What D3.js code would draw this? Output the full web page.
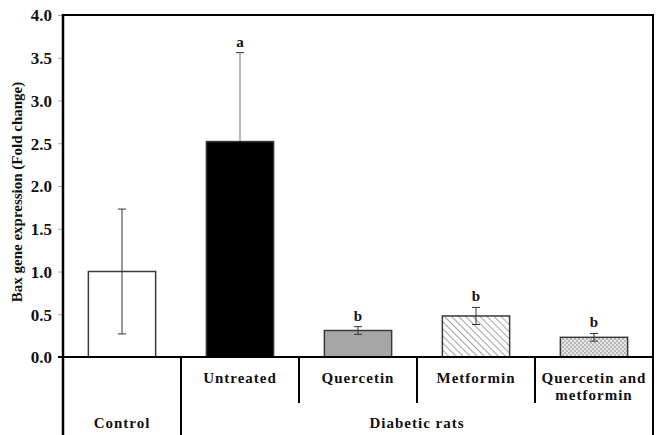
<!DOCTYPE html>
<html>
<head>
<meta charset="utf-8">
<script src="https://cdnjs.cloudflare.com/ajax/libs/d3/7.8.5/d3.min.js"></script>
<style>
  body { margin: 0; background: #fff; }
  svg text { font-family: "Liberation Serif", "DejaVu Serif", serif !important; font-weight: bold; fill: #111; }
</style>
</head>
<body>
<script>
// data
const groups = ["Control", "Untreated", "Quercetin", "Metformin", "Quercetin and metformin"];
const labelLines = [["Control"], ["Untreated"], ["Quercetin"], ["Metformin"], ["Quercetin and", "metformin"]];
const means = [1.0, 2.52, 0.31, 0.48, 0.23];
const errors = [0.73, 1.04, 0.045, 0.10, 0.045];
const letters = ["", "a", "b", "b", "b"];
const yTicks = [0, 0.5, 1.0, 1.5, 2.0, 2.5, 3.0, 3.5, 4.0];
const outerGroup = "Diabetic rats";

const W = 657, H = 435;
const m = { left: 63, right: 653, top: 15, bottom: 357 };

const svg = d3.select("body").append("svg").attr("width", W).attr("height", H);
const defs = svg.append("defs");

// hatched fill for metformin
const hatch = defs.append("pattern").attr("id", "hatch").attr("patternUnits", "userSpaceOnUse")
  .attr("width", 5).attr("height", 5).attr("patternTransform", "rotate(-45)");
hatch.append("rect").attr("width", 5).attr("height", 5).attr("fill", "#fff");
hatch.append("line").attr("x1", 0).attr("y1", 0).attr("x2", 0).attr("y2", 5)
  .attr("stroke", "#a8a8a8").attr("stroke-width", 2.2);

// checker fill for the combination
const check = defs.append("pattern").attr("id", "check").attr("patternUnits", "userSpaceOnUse")
  .attr("width", 4).attr("height", 4);
check.append("rect").attr("width", 4).attr("height", 4).attr("fill", "#e6e6e6");
check.append("rect").attr("width", 2).attr("height", 2).attr("fill", "#b8b8b8");
check.append("rect").attr("x", 2).attr("y", 2).attr("width", 2).attr("height", 2).attr("fill", "#b8b8b8");

const fills = ["#fff", "#000", "#a6a6a6", "url(#hatch)", "url(#check)"];

const x = d3.scaleBand().domain(groups).range([m.left, m.right]).paddingInner(0).paddingOuter(0);
const y = d3.scaleLinear().domain([0, 4]).range([m.bottom, m.top]);
const barW = x.bandwidth() * 0.57;
const cx = d => x(d) + x.bandwidth() / 2;

// y axis
const yAxis = svg.append("g").attr("transform", `translate(${m.left},0)`)
  .call(d3.axisLeft(y).tickValues(yTicks).tickFormat(d3.format(".1f")).tickSize(5).tickPadding(6));
yAxis.select(".domain").remove();
yAxis.selectAll(".tick line").attr("stroke", "#aaa");
yAxis.selectAll(".tick text").attr("font-size", 17).attr("dy", "0.34em");

// bars
const g = svg.append("g");
g.selectAll("rect.bar").data(groups).join("rect").attr("class", "bar")
  .attr("x", d => x(d) + (x.bandwidth() - barW) / 2)
  .attr("y", (d, i) => y(means[i]))
  .attr("width", barW)
  .attr("height", (d, i) => y(0) - y(means[i]))
  .attr("fill", (d, i) => fills[i])
  .attr("stroke", "#3a3a3a").attr("stroke-width", 1.5);

// error bars
const eb = g.selectAll("g.err").data(groups).join("g").attr("class", "err")
  .attr("stroke", "#333").attr("stroke-width", 1);
eb.append("line")
  .attr("x1", cx).attr("x2", cx)
  .attr("y1", (d, i) => y(means[i])).attr("y2", (d, i) => y(means[i] + errors[i]))
  .attr("stroke", (d, i) => i === 1 ? "#777" : "#333");
eb.append("line")
  .attr("x1", cx).attr("x2", cx)
  .attr("y1", (d, i) => y(means[i])).attr("y2", (d, i) => y(means[i] - errors[i]))
  .attr("stroke", (d, i) => i === 1 ? "#000" : "#333");
eb.append("line")
  .attr("x1", d => cx(d) - 4).attr("x2", d => cx(d) + 4)
  .attr("y1", (d, i) => y(means[i] + errors[i])).attr("y2", (d, i) => y(means[i] + errors[i]));
eb.append("line")
  .attr("x1", d => cx(d) - 4).attr("x2", d => cx(d) + 4)
  .attr("y1", (d, i) => y(means[i] - errors[i])).attr("y2", (d, i) => y(means[i] - errors[i]))
  .attr("stroke", (d, i) => i === 1 ? "#000" : "#333");

// significance letters
g.selectAll("text.sig").data(groups).join("text").attr("class", "sig")
  .attr("x", cx)
  .attr("y", (d, i) => y(means[i] + errors[i]) - 6)
  .attr("text-anchor", "middle").attr("font-size", 15)
  .text((d, i) => letters[i]);

// frame
const frame = svg.append("g").attr("stroke", "#000").attr("fill", "none");
frame.append("line").attr("x1", m.left).attr("x2", m.right).attr("y1", m.top).attr("y2", m.top).attr("stroke-width", 2);
frame.append("line").attr("x1", m.left).attr("x2", m.left).attr("y1", m.top - 1).attr("y2", H).attr("stroke-width", 2.5);
frame.append("line").attr("x1", m.right).attr("x2", m.right).attr("y1", m.top - 1).attr("y2", H).attr("stroke-width", 2);
frame.append("line").attr("x1", m.left - 5).attr("x2", m.right).attr("y1", m.bottom).attr("y2", m.bottom).attr("stroke-width", 2);

// category table separators
frame.append("line").attr("x1", x(groups[1])).attr("x2", x(groups[1])).attr("y1", m.bottom).attr("y2", H).attr("stroke-width", 2);
groups.slice(2).forEach(d => {
  frame.append("line").attr("x1", x(d)).attr("x2", x(d)).attr("y1", m.bottom).attr("y2", 403).attr("stroke-width", 2);
});

// category labels
const cats = svg.append("g");
groups.forEach((d, i) => {
  const lines = labelLines[i];
  const baseY = i === 0 ? 428 : 383;
  lines.forEach((t, k) => {
    cats.append("text").attr("x", cx(d)).attr("y", baseY + k * 17)
      .attr("text-anchor", "middle").attr("font-size", 15).style("letter-spacing", "1px").text(t);
  });
});
cats.append("text").attr("x", (x(groups[1]) + m.right) / 2).attr("y", 428)
  .attr("text-anchor", "middle").attr("font-size", 15).style("letter-spacing", "1px").text(outerGroup);

// y title
svg.append("text").attr("transform", `translate(22,${(m.top + m.bottom) / 2 + 6}) rotate(-90)`)
  .attr("text-anchor", "middle").attr("font-size", 15).text("Bax gene expression (Fold change)");
</script>
</body>
</html>
